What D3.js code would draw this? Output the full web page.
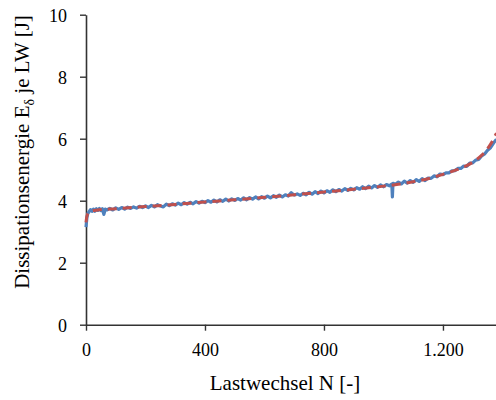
<!DOCTYPE html>
<html><head><meta charset="utf-8">
<script src="https://cdn.jsdelivr.net/npm/d3@7"></script>
<style>body{margin:0;background:#fff}svg{display:block}svg text{fill:#000}</style>
</head><body><svg id="c" width="496" height="400"></svg>
<script>
const xTicks = [0, 400, 800, 1200];
const xTickLabels = ["0", "400", "800", "1.200"];
const yTicks = [0, 2, 4, 6, 8, 10];
const yTickLabels = ["0", "2", "4", "6", "8", "10"];
const xTitle = "Lastwechsel N [-]";

// measured dissipation energy (blue)
const measN = [0,3,6,10,15,20,25,30,35,40,45,50,55,60,65,70,80,90,100,110,120,130,140,150,160,170,180,190,200,210,220,230,240,250,260,270,280,290,300,310,320,330,340,350,360,370,380,390,400,410,420,430,440,450,460,470,480,490,500,510,520,530,540,550,560,570,580,590,600,610,620,630,640,650,660,670,680,690,700,710,720,730,740,750,760,770,780,790,800,810,820,830,840,850,860,870,880,890,900,910,920,930,940,950,960,970,980,990,1000,1010,1020,1028,1030,1032,1040,1050,1060,1070,1080,1090,1100,1110,1120,1130,1140,1150,1160,1170,1180,1190,1200,1210,1220,1230,1240,1250,1260,1270,1280,1290,1300,1310,1320,1330,1340,1350,1360,1370,1380];
const measE = [3.15,3.45,3.58,3.64,3.71,3.66,3.73,3.66,3.74,3.69,3.75,3.68,3.74,3.56,3.73,3.70,3.75,3.70,3.77,3.72,3.78,3.73,3.79,3.75,3.80,3.76,3.82,3.78,3.83,3.78,3.85,3.80,3.87,3.83,3.80,3.89,3.84,3.90,3.86,3.92,3.87,3.94,3.89,3.95,3.90,3.97,3.92,3.98,3.94,4.00,3.95,4.02,3.96,4.03,3.98,4.05,3.99,4.06,4.01,4.07,4.02,4.09,4.03,4.10,4.05,4.12,4.06,4.13,4.08,4.15,4.09,4.16,4.11,4.18,4.12,4.19,4.15,4.26,4.18,4.22,4.17,4.24,4.19,4.27,4.21,4.29,4.23,4.31,4.25,4.32,4.27,4.35,4.29,4.36,4.31,4.39,4.33,4.40,4.35,4.42,4.37,4.45,4.39,4.47,4.41,4.49,4.43,4.51,4.45,4.52,4.48,4.54,4.12,4.56,4.53,4.60,4.54,4.63,4.57,4.65,4.59,4.68,4.62,4.71,4.65,4.73,4.72,4.80,4.77,4.86,4.84,4.90,4.90,4.96,4.97,5.04,5.04,5.12,5.11,5.21,5.22,5.31,5.33,5.44,5.51,5.63,5.71,5.86,5.98];

// fit curve (red dashed)
const fitN = [0,2,5,10,20,40,100,200,300,400,500,600,700,800,900,1000,1050,1100,1150,1200,1250,1300,1325,1350,1365,1380];
const fitE = [3.30,3.45,3.56,3.63,3.67,3.70,3.74,3.81,3.88,3.96,4.03,4.11,4.19,4.28,4.37,4.47,4.53,4.61,4.71,4.85,5.01,5.24,5.42,5.68,5.90,6.18];

const svg = d3.select("#c");
const x = d3.scaleLinear().domain([0, 1380]).range([86, 496.5]);
const y = d3.scaleLinear().domain([0, 10]).range([324.7, 14.7]);

const serif = '"Liberation Serif","DejaVu Serif","Noto Serif",serif';

// axes
const xAxis = d3.axisBottom(x).tickValues(xTicks).tickSize(6).tickSizeOuter(0)
  .tickFormat((d, i) => xTickLabels[i]);
const gx = svg.append("g").attr("transform", "translate(0,324.7)").call(xAxis)
  .attr("font-family", serif);
gx.select(".domain").attr("stroke", "#333").attr("stroke-width", 1.6);
gx.selectAll(".tick line").attr("stroke", "#333").attr("stroke-width", 1.4);
gx.selectAll(".tick text").attr("font-size", 18).attr("dy", 0).attr("y", 31).attr("fill", "#000");

const yAxis = d3.axisLeft(y).tickValues(yTicks).tickSize(6).tickSizeOuter(0)
  .tickFormat((d, i) => yTickLabels[i]);
const gy = svg.append("g").attr("transform", "translate(86,0)").call(yAxis)
  .attr("font-family", serif);
gy.select(".domain").attr("stroke", "#333").attr("stroke-width", 1.6);
gy.selectAll(".tick line").attr("stroke", "#333").attr("stroke-width", 1.4);
gy.selectAll(".tick text").attr("font-size", 18).attr("x", -19).attr("dy", "0.36em").attr("fill", "#000");

// lines
const measData = measN.map((n, i) => [n, measE[i]]);
const fitData = fitN.map((n, i) => [n, fitE[i]]);
const lineGen = d3.line().x(d => x(d[0])).y(d => y(d[1]));

svg.append("path").datum(measData)
  .attr("d", lineGen)
  .attr("fill", "none").attr("stroke", "#4f81bd").attr("stroke-width", 3.2)
  .attr("stroke-linejoin", "round");

svg.append("path").datum(fitData)
  .attr("d", lineGen.curve(d3.curveMonotoneX))
  .attr("fill", "none").attr("stroke", "#c0504d").attr("stroke-width", 3)
  .attr("stroke-dasharray", "9,6");

// titles
svg.append("text").attr("x", 285).attr("y", 390).attr("text-anchor", "middle")
  .attr("font-family", serif).attr("font-size", 21).text(xTitle);

const yt = svg.append("text").attr("transform", "translate(29,152) rotate(-90)")
  .attr("text-anchor", "middle").attr("font-family", serif).attr("font-size", 21);
yt.append("tspan").text("Dissipationsenergie E");
yt.append("tspan").attr("font-size", 14).attr("dy", 5).text("δ");
yt.append("tspan").attr("dy", -5).text(" je LW [J]");
</script></body></html>
